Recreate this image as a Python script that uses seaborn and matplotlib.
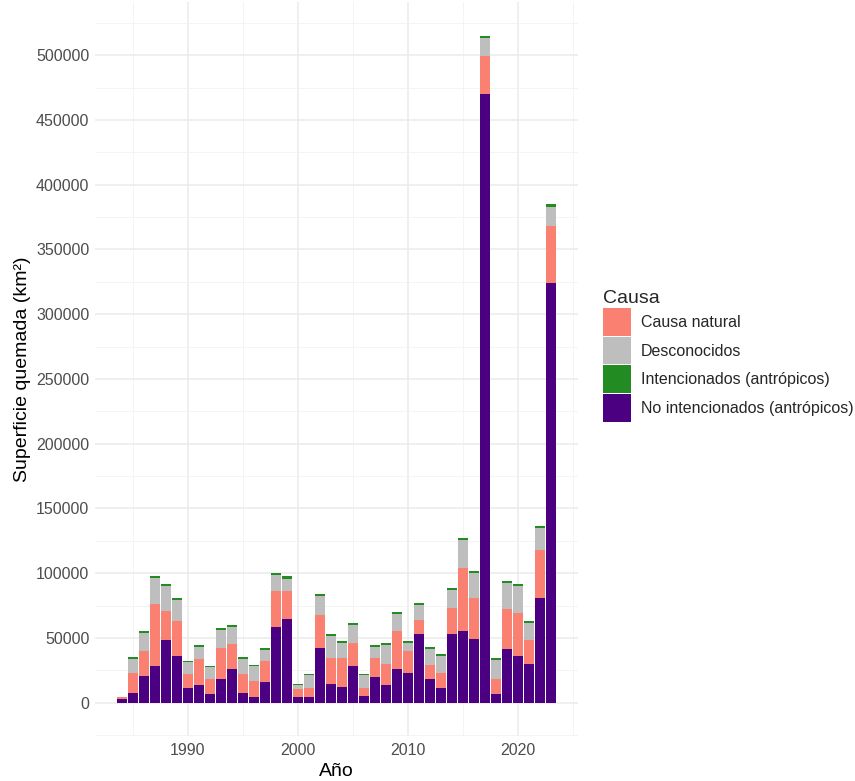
import numpy as np
import pandas as pd
import matplotlib
matplotlib.use("Agg")
import matplotlib.pyplot as plt
import seaborn as sns
from matplotlib.patches import Patch

# ---------------- data (km²) ----------------
years = list(range(1984, 2024))

no_intencionados = [3000, 7700, 20800, 28500, 48000, 36300, 11600, 13900, 7000, 18500,
                    26000, 7700, 4600, 16200, 58700, 64800, 4600, 4000, 42500, 14700,
                    12300, 28500, 5400, 20000, 13900, 26200, 23100, 53200, 18500, 11600,
                    53200, 55500, 49400, 470000, 7000, 41700, 36300, 30100, 81000, 324000]

causa_natural = [1000, 15300, 19200, 47500, 23000, 26700, 10400, 20100, 11500, 24000,
                 19500, 14700, 12400, 16200, 27700, 21600, 6200, 7600, 25500, 20000,
                 22400, 17800, 6200, 14700, 16100, 29300, 16900, 10800, 10800, 11500,
                 20100, 48500, 31600, 29000, 11500, 30800, 33200, 18500, 37000, 44000]

desconocidos = [400, 10500, 13700, 20200, 19200, 16200, 9200, 9200, 8800, 13600,
                12900, 11600, 11100, 8600, 11800, 9300, 3000, 9600, 14300, 16700,
                11000, 13600, 9600, 8500, 14800, 12900, 6300, 11400, 12200, 13200,
                13600, 21300, 19000, 14000, 14700, 19800, 20500, 12900, 16600, 15000]

intencionados = [200, 1500, 1800, 1800, 1800, 1800, 1200, 1500, 1200, 1800,
                 1800, 1500, 1200, 1500, 1800, 1800, 900, 1200, 1800, 1800,
                 1800, 1800, 1200, 1500, 1500, 1800, 1500, 1800, 1500, 1500,
                 1800, 2000, 1800, 2000, 1500, 1800, 1800, 1800, 2000, 2000]

causas = ["Causa natural", "Desconocidos", "Intencionados (antrópicos)",
          "No intencionados (antrópicos)"]
colores = ["#FA8072", "#BEBEBE", "#228B22", "#4B0082"]

x_ticks = [1990, 2000, 2010, 2020]
x_tick_labels = ["1990", "2000", "2010", "2020"]
y_ticks = list(range(0, 500001, 50000))
y_tick_labels = [str(v) for v in y_ticks]

# ---------------- long table ----------------
series = {
    "Causa natural": causa_natural,
    "Desconocidos": desconocidos,
    "Intencionados (antrópicos)": intencionados,
    "No intencionados (antrópicos)": no_intencionados,
}
df = pd.concat(
    [pd.DataFrame({"Año": years, "Causa": k, "Superficie": v}) for k, v in series.items()],
    ignore_index=True,
)
palette = dict(zip(causas, colores))
# seaborn puts the first hue level on top of the stack
stack_order = ["Intencionados (antrópicos)", "Desconocidos", "Causa natural",
               "No intencionados (antrópicos)"]

# ---------------- figure ----------------
sns.set_theme(style="white")
plt.rcParams["font.family"] = ["Liberation Sans", "DejaVu Sans"]

W, H = 855, 781
fig = plt.figure(figsize=(W / 100, H / 100), dpi=100)

totals = df.groupby("Año")["Superficie"].sum()
ymax = totals.max()
pad = 0.05 * ymax
px_per_unit = 129.5 / 100000
ax_h_px = (ymax + 2 * pad) * px_per_unit
bottom_px = 736
left_px, right_px = 95, 578
ax = fig.add_axes([left_px / W, 1 - bottom_px / H, (right_px - left_px) / W, ax_h_px / H])

sns.histplot(data=df, x="Año", weights="Superficie", hue="Causa",
             hue_order=stack_order, palette=palette, multiple="stack",
             discrete=True, shrink=0.9, alpha=1, linewidth=0,
             legend=False, ax=ax)

ax.set_xlim(1981.55, 2025.45)
ax.set_ylim(-pad, ymax + pad)

ax.set_xticks(x_ticks)
ax.set_xticklabels(x_tick_labels)
ax.set_xticks(np.arange(1985, 2026, 10), minor=True)
ax.set_yticks(y_ticks)
ax.set_yticklabels(y_tick_labels)
ax.set_yticks(np.arange(-25000, 540000, 50000), minor=True)

ax.set_axisbelow(True)
ax.grid(which="major", color="#EBEBEB", linewidth=1.1)
ax.grid(which="minor", color="#F2F2F2", linewidth=0.6)
for s in ax.spines.values():
    s.set_visible(False)
ax.tick_params(which="both", length=0, labelsize=11.5, labelcolor="#4D4D4D")
ax.tick_params(axis="y", pad=4)
ax.tick_params(axis="x", pad=5)

ax.set_xlabel("Año", fontsize=14, color="black", labelpad=4)
ax.set_ylabel("Superficie quemada (km²)", fontsize=14, color="black", labelpad=4)

handles = [Patch(facecolor=c, edgecolor="none") for c in colores]
leg = fig.legend(handles, causas, title="Causa", loc="center left",
                 bbox_to_anchor=(603 / W, 1 - 356 / H), frameon=False,
                 fontsize=11.5, title_fontsize=14, handlelength=1.75,
                 handleheight=2.3, labelspacing=0.05, handletextpad=0.6,
                 borderpad=0, borderaxespad=0, alignment="left")

fig.savefig("out.png", dpi=100)
